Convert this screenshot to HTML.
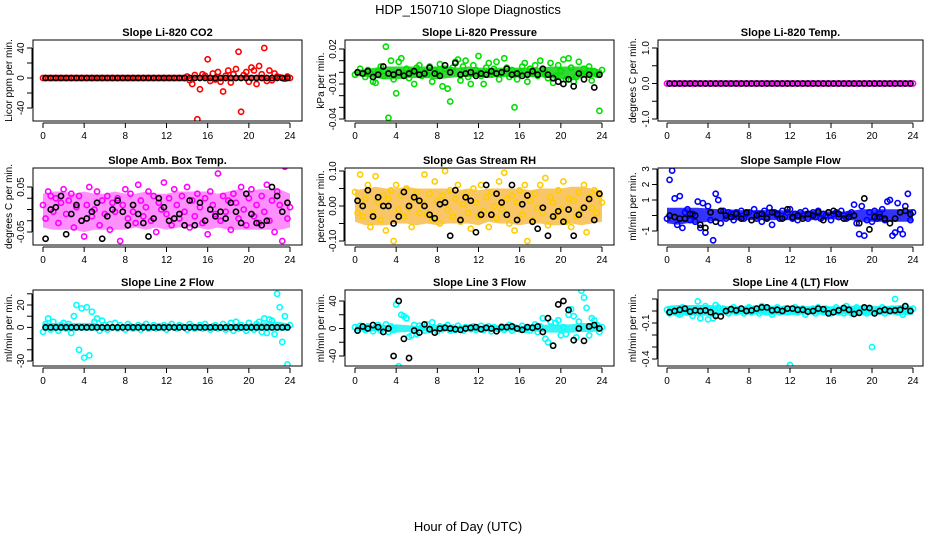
<!DOCTYPE html>
<html><head><meta charset="utf-8"><style>
html,body{margin:0;padding:0;background:#fff;}
svg{display:block;font-family:"Liberation Sans",sans-serif;}
</style></head><body>
<svg id="chart" width="936" height="540" viewBox="0 0 936 540">
<text x="468" y="14" text-anchor="middle" font-size="13">HDP_150710  Slope Diagnostics</text>
<text x="468" y="531" text-anchor="middle" font-size="13">Hour of Day (UTC)</text>
</svg>
<script>
// ---- data (values per panel) ----
const xTicks=[0,4,8,12,16,20,24];
const p1Col=[0,0,0,0,0,0,0,0,0,0,0,0,0,0,0,0,0,0,0,0,0,0,0,0,0,0,0,0,0,0,0,0,0,0,0,0,0,0,0,0,0,0,0,0,0,0,0,0,0,0,0,0,0,0,0,0,2,-3,-8,4,-55,-15,5,3,25,-4,6,-2,8,-5,-18,3,10,-6,5,12,35,-45,4,8,-5,14,10,-8,16,5,40,-4,10,-3,6,2,1,0,-1,2,0];
const p1Blk=[0,0,0,0,0,0,0,0,0,0,0,0,0,0,0,0,0,0,0,0,0,0,0,0,0,0,0,0,0,0,0,0,0,0,0,0,0,0,0,0,0,0,0,0,0,0,0,0];
const p1Lo=[-1,-1,-1,-1,-1,-1,-1,-1,-1,-1,-1,-1,-1,-1,-1,-3,-3,-3,-3,-3,-3,-3,-2,-1,-1];
const p1Hi=[1,1,1,1,1,1,1,1,1,1,1,1,1,1,1,3,3,3,3,4,4,4,3,1,1];

const p2Col=[-2,0,3,-1,-4,2,-1,-8,-9,1,5,-3,22,-39,10,-6,-18,9,12,-2,3,-5,1,-10,4,6,-3,0,-2,5,-8,2,-1,7,-12,3,-14,-25,4,9,11,-7,5,10,-4,-10,6,2,14,-3,-10,4,8,-2,3,9,-6,-1,12,4,-4,2,-30,-6,0,5,8,-8,3,-1,6,-3,10,2,-2,-5,8,-9,-3,6,1,11,-6,12,4,-8,-4,9,-2,3,-1,5,-7,1,-2,-33,2];
const p2Blk=[0,-1,1,-4,-2,5,-1,-2,0,-3,-1,1,-2,-1,4,-1,-3,6,0,8,-2,-1,0,-3,-1,-2,1,-1,0,3,-2,-1,-3,-2,1,-2,3,-2,-5,-8,-10,-6,-12,-1,-6,-2,-13,-2];
const p2Lo=[-3,-4,-5,-6,-6,-5,-5,-5,-6,-5,-4,-4,-4,-5,-4,-4,-4,-4,-4,-5,-6,-6,-5,-4,-3];
const p2Hi=[2,3,4,5,5,5,5,5,5,5,4,5,4,4,4,4,4,4,4,5,5,5,5,4,2];

const p3Col=[0,0,0,0,0,0,0,0,0,0,0,0,0,0,0,0,0,0,0,0,0,0,0,0,0,0,0,0,0,0,0,0,0,0,0,0,0,0,0,0,0,0,0,0,0,0,0,0,0,0,0,0,0,0,0,0,0,0,0,0,0,0,0,0,0,0,0,0,0,0,0,0,0,0,0,0,0,0,0,0,0,0,0,0,0,0,0,0,0,0,0,0,0,0,0,0,0];
const p3Blk=[0,0,0,0,0,0,0,0,0,0,0,0,0,0,0,0,0,0,0,0,0,0,0,0,0,0,0,0,0,0,0,0,0,0,0,0,0,0,0,0,0,0,0,0,0,0,0,0];
const p3Lo=[-0.02,-0.02,-0.02,-0.02,-0.02,-0.02,-0.02,-0.02,-0.02,-0.02,-0.02,-0.02,-0.02,-0.02,-0.02,-0.02,-0.02,-0.02,-0.02,-0.02,-0.02,-0.02,-0.02,-0.02,-0.02];
const p3Hi=[0.02,0.02,0.02,0.02,0.02,0.02,0.02,0.02,0.02,0.02,0.02,0.02,0.02,0.02,0.02,0.02,0.02,0.02,0.02,0.02,0.02,0.02,0.02,0.02,0.02];

const p4Col=[10,-20,40,30,-5,25,-30,15,45,-10,20,35,-40,5,30,-25,-60,10,50,-15,0,40,-35,20,-10,30,-45,15,-5,25,-70,10,45,-20,35,-5,-30,55,20,-15,5,40,-25,30,-50,15,0,60,-10,25,-35,45,10,-20,30,-5,50,-40,20,-15,35,5,-30,25,-55,40,10,-10,80,-25,30,-5,20,-45,35,15,-20,50,0,-35,25,45,-15,10,-30,30,-5,55,-25,20,-50,40,10,-70,95,-20,5];
const p4Blk=[-65,0,5,30,-55,-10,10,-25,-20,-5,15,-65,-15,0,20,-5,-35,10,-10,-30,-60,-20,25,5,-25,-20,-10,-35,20,-35,15,-25,0,-15,-5,-20,15,-5,-30,35,-10,-30,-35,-25,50,30,-5,15];
const p4Lo=[-40,-45,-45,-45,-50,-45,-45,-45,-45,-40,-45,-40,-45,-40,-40,-40,-45,-40,-45,-45,-45,-45,-45,-45,-40];
const p4Hi=[35,40,40,35,40,35,35,40,35,35,40,35,35,40,40,40,40,35,40,45,40,45,45,45,35];

const p5Col=[40,-20,90,-30,20,60,-60,-20,85,10,-40,30,-70,20,45,-100,60,-10,30,-30,50,-5,-60,20,40,-20,10,90,-25,35,-40,70,15,-50,30,100,-10,45,-30,20,60,-45,5,35,-20,-65,50,10,-30,60,-15,25,-60,40,0,-35,70,-10,95,20,-50,30,-70,10,45,-25,60,-100,15,-40,35,-5,60,-20,80,-55,25,10,-30,45,-10,70,-45,20,-60,15,-30,40,-10,60,-75,25,-5,45,-20,30,10];
const p5Blk=[15,0,45,-30,25,0,0,-50,-30,40,0,25,15,0,-25,-35,5,10,-85,45,-40,25,15,-75,-25,60,-25,35,10,-25,60,-40,5,30,-45,-65,-5,-85,-30,-15,-45,-10,-85,-25,-5,20,-40,35];
const p5Lo=[-45,-55,-55,-55,-50,-50,-55,-50,-55,-50,-50,-50,-55,-45,-50,-50,-55,-50,-50,-55,-55,-50,-55,-50,-45];
const p5Hi=[45,50,55,50,50,55,50,50,50,50,45,50,45,50,50,50,50,45,50,50,50,55,55,50,45];

const p6Col=[-0.2,2.3,2.9,1.1,-0.6,1.25,-0.8,0.2,0.4,-0.3,0.1,-0.4,0.9,-0.8,0.8,-1.1,0.6,-0.3,-1.6,1.4,1.0,-0.5,0.3,-0.2,0.2,0.1,-0.3,0.2,-0.1,0.3,-0.2,0.1,0.2,-0.3,0.4,-0.2,0.1,-0.4,0.3,-0.1,0.5,-0.6,0.2,0,-0.2,0.3,-0.1,0.2,0.4,-0.2,0.1,-0.3,0.2,0,0.3,-0.2,0.1,0.2,-0.1,0.3,-0.2,0.1,0,0.2,-0.3,0.1,0.2,-0.1,0.3,0,-0.2,0.1,0.2,0.7,-0.5,-1.2,0.6,-1.3,-0.3,0.2,-0.4,0.3,-0.2,0.1,0.4,-0.3,0.9,1.0,-1.3,-1.1,0.8,-0.9,-1.2,0.6,1.4,-0.3,0.2];
const p6Blk=[0,-0.1,-0.2,-0.2,0.1,0,-0.6,-0.8,0.2,-0.4,0.3,0,-0.1,0.1,-0.2,0.2,-0.3,0,0.1,-0.2,0.2,0.1,-0.2,0.4,-0.1,0,-0.2,0.1,0,0.2,-0.3,0.2,0.3,0.1,-0.2,-0.1,0,-0.5,1.1,-0.9,-0.1,-0.1,-0.2,-0.5,-0.2,0.2,0.3,0.1];
const p6Lo=[-0.5,-0.6,-0.5,-0.5,-0.4,-0.35,-0.3,-0.3,-0.3,-0.3,-0.3,-0.3,-0.3,-0.3,-0.3,-0.3,-0.25,-0.25,-0.3,-0.4,-0.4,-0.4,-0.4,-0.4,-0.4];
const p6Hi=[0.5,0.5,0.5,0.5,0.45,0.4,0.4,0.35,0.35,0.35,0.35,0.35,0.3,0.3,0.3,0.3,0.25,0.25,0.3,0.4,0.4,0.4,0.4,0.4,0.4];

const p7Col=[-4,3,8,-2,5,0,-3,2,4,-1,3,-5,10,20,-20,17,-27,18,-25,14,5,8,-3,6,2,-2,3,0,4,-1,2,0,-2,3,1,-1,0,2,-2,1,3,-1,0,2,-1,1,0,2,-2,1,3,0,-1,2,1,0,-2,3,1,-1,0,2,-1,3,0,-2,1,2,-1,0,3,-2,1,4,-3,5,-1,2,0,-3,4,1,-2,3,5,-4,8,-5,7,6,-6,30,18,-13,10,-33,2];
const p7Blk=[0,0,0,0,0,0,0,0,0,0,0,0,0,0,0,0,0,0,0,0,0,0,0,0,0,0,0,0,0,0,0,0,0,0,0,0,0,0,0,0,0,0,0,0,0,0,0,0];
const p7Lo=[-3,-3,-3,-3,-3,-3,-2,-2,-2,-2,-2,-2,-2,-2,-2,-2,-2,-2,-2,-3,-3,-3,-3,-3,-3];
const p7Hi=[4,4,4,4,4,4,2,2,2,2,2,2,2,2,2,2,2,2,2,3,3,4,5,5,3];

const p8Col=[2,-3,4,1,-2,3,0,-4,2,5,-3,1,6,-5,3,-2,35,-55,20,18,15,-12,-10,5,-8,4,2,-3,6,-2,9,1,-4,3,-1,2,5,-3,1,-2,4,0,-3,2,1,-1,3,-2,0,4,-2,1,3,-4,2,0,-1,3,-2,1,5,-3,2,0,-1,4,-2,1,-3,2,6,-5,3,15,-15,-20,10,-25,8,12,-10,2,-8,20,28,18,-13,10,55,45,30,-10,15,12,5,-5,2];
const p8Blk=[-3,3,0,5,2,-5,0,-40,40,-15,-43,-3,-6,6,-1,-6,0,1,0,-1,-2,0,1,2,-1,1,0,-4,2,2,3,0,-2,2,1,3,-5,15,-25,35,40,27,-17,0,-18,3,5,0];
const p8Lo=[-4,-4,-4,-5,-6,-5,-4,-4,-4,-4,-4,-4,-4,-4,-4,-4,-4,-4,-5,-6,-6,-6,-5,-5,-4];
const p8Hi=[4,4,4,5,6,5,4,4,4,4,4,4,4,4,4,4,4,4,5,6,6,6,8,8,4];

const p9Col=[0.01,-0.02,0.02,0,-0.02,-0.03,0.03,0.01,-0.01,0.02,-0.04,0,0.08,-0.06,0.01,0.04,-0.07,0.02,-0.06,0.05,0.03,-0.01,0.02,0,-0.02,0.01,0.03,-0.01,0,0.02,-0.02,0.01,0.03,-0.01,0.02,0,-0.02,0.04,0.01,-0.01,0.02,-0.03,0,0.03,-0.01,0.01,0.02,-0.01,-0.45,0,0.03,-0.01,0.01,0.02,-0.03,0,0.01,0.02,-0.02,0.03,0,-0.01,0.02,0.01,-0.02,0,0.03,-0.01,0.01,-0.02,0.04,0,-0.02,0.01,0.03,-0.01,0.02,0,-0.02,0.01,-0.3,-0.02,0,0.01,0.03,-0.02,0,0.01,0.02,0.1,-0.01,0.02,-0.03,0.04,0,0.01,0.02];
const p9Blk=[-0.01,0,0.01,0.02,-0.005,0.005,0,0.005,-0.01,-0.04,-0.045,0,0.015,0.005,0.02,0,0.005,0.02,0.03,0.03,0.005,0.01,0,0.02,0.02,0.01,0.01,-0.005,0,0.02,0.015,-0.02,-0.01,0.005,0.025,0.01,-0.025,-0.015,0.03,0.025,-0.02,0,0.01,0,0.005,0.01,0.04,0];
const p9Lo=[-0.03,-0.04,-0.04,-0.04,-0.04,-0.035,-0.03,-0.03,-0.03,-0.03,-0.035,-0.03,-0.035,-0.03,-0.03,-0.03,-0.035,-0.03,-0.03,-0.035,-0.035,-0.03,-0.03,-0.035,-0.03];
const p9Hi=[0.04,0.05,0.05,0.05,0.05,0.045,0.04,0.04,0.045,0.04,0.045,0.04,0.045,0.04,0.04,0.04,0.04,0.04,0.045,0.045,0.045,0.04,0.045,0.05,0.04];

// ---- layout ----
const cols=[{l:33,r:302,x0:43,x24:290,lab:8},{l:345,r:614,x0:355,x24:602,lab:320},{l:658,r:923,x0:667,x24:913,lab:632}];
const rows=[{t:40,b:121},{t:168,b:245},{t:290,b:366}];
const panels=[
 {name:'co2',title:'Slope Li-820 CO2',ylab:'Licor ppm per min.',col:p1Col,blk:p1Blk,lo:p1Lo,hi:p1Hi,s:1,c:'#ff0000',band:'#ff0000',op:0.7,v1:40,y1:48,v2:-40,y2:108,ticks:[40,20,0,-20,-40],tl:['40','','0','','-40']},
 {name:'pressure',title:'Slope Li-820 Pressure',ylab:'kPa per min.',col:p2Col,blk:p2Blk,lo:p2Lo,hi:p2Hi,s:0.001,c:'#00e000',band:'#00d000',op:0.8,v1:0.02,y1:49,v2:-0.04,y2:119,ticks:[0.02,0.01,0,-0.01,-0.02,-0.03,-0.04],tl:['0.02','','','-0.01','','','-0.04']},
 {name:'li820-temp',title:'Slope Li-820 Temp.',ylab:'degrees C per min.',col:p3Col,blk:p3Blk,lo:p3Lo,hi:p3Hi,s:1,c:'#ff00ff',band:'#ff00ff',op:0.8,v1:1,y1:48,v2:-1,y2:119,ticks:[1,0.5,0,-0.5,-1],tl:['1.0','','0.0','','-1.0']},
 {name:'amb-box-temp',title:'Slope Amb. Box Temp.',ylab:'degrees C per min.',col:p4Col,blk:p4Blk,lo:p4Lo,hi:p4Hi,s:0.001,c:'#ff00ff',band:'#ff33ff',op:0.55,v1:0.05,y1:187,v2:-0.05,y2:232,ticks:[0.05,0.025,0,-0.025,-0.05],tl:['0.05','','','','-0.05']},
 {name:'gas-stream-rh',title:'Slope Gas Stream RH',ylab:'percent per min.',col:p5Col,blk:p5Blk,lo:p5Lo,hi:p5Hi,s:0.001,c:'#ffcc00',band:'#f4a000',op:0.6,v1:0.1,y1:171,v2:-0.1,y2:241,ticks:[0.1,0.05,0,-0.05,-0.1],tl:['0.10','','0.00','','-0.10']},
 {name:'sample-flow',title:'Slope Sample Flow',ylab:'ml/min per min.',col:p6Col,blk:p6Blk,lo:p6Lo,hi:p6Hi,s:1,c:'#0000ff',band:'#0000ff',op:0.8,v1:3,y1:169,v2:-1,y2:231,ticks:[3,2,1,0,-1],tl:['3','2','1','','-1']},
 {name:'line2-flow',title:'Slope Line 2 Flow',ylab:'ml/min per min.',col:p7Col,blk:p7Blk,lo:p7Lo,hi:p7Hi,s:1,c:'#00ffff',band:'#00f0f0',op:0.8,v1:20,y1:305,v2:-30,y2:361,ticks:[30,20,10,0,-10,-20,-30],tl:['','20','','0','','','-30']},
 {name:'line3-flow',title:'Slope Line 3 Flow',ylab:'ml/min per min.',col:p8Col,blk:p8Blk,lo:p8Lo,hi:p8Hi,s:1,c:'#00ffff',band:'#00f0f0',op:0.8,v1:40,y1:301,v2:-40,y2:356,ticks:[40,20,0,-20,-40],tl:['40','','0','','-40']},
 {name:'line4-flow',title:'Slope Line 4 (LT) Flow',ylab:'ml/min per min.',col:p9Col,blk:p9Blk,lo:p9Lo,hi:p9Hi,s:1,c:'#00ffff',band:'#00f0f0',op:0.8,v1:0.1,y1:299,v2:-0.4,y2:359,ticks:[0.1,0,-0.1,-0.2,-0.3,-0.4],tl:['','','-0.1','','','-0.4']}
];
const NS='http://www.w3.org/2000/svg';
const svg=document.getElementById('chart');
function mk(tag,attrs,parent){const e=document.createElementNS(NS,tag);for(const k in attrs)e.setAttribute(k,attrs[k]);(parent||svg).appendChild(e);return e;}
panels.forEach((p,i)=>{
 const C=cols[i%3],R=rows[Math.floor(i/3)];
 const g=mk('g',{});
 
 
 const xs=h=>C.x0+(C.x24-C.x0)*h/24;
 const ys=v=>p.y1+(p.y2-p.y1)*(v-p.v1)/(p.v2-p.v1);
 const clip='clip'+i;
 const cp=mk('clipPath',{id:clip},g);mk('rect',{x:C.l,y:R.t,width:C.r-C.l,height:R.b-R.t},cp);
 const pg=mk('g',{'clip-path':'url(#'+clip+')'},g);
 let pts=[];
 p.hi.forEach((v,k)=>pts.push(xs(k*24/(p.hi.length-1))+','+ys(v*p.s)));
 for(let k=p.lo.length-1;k>=0;k--)pts.push(xs(k*24/(p.lo.length-1))+','+ys(p.lo[k]*p.s));
 const band=mk('polygon',{points:pts.join(' '),fill:p.band,'fill-opacity':p.op,stroke:'none'},pg);
 
 
 p.col.forEach((v,k)=>{
  const c=mk('circle',{cx:xs(k*24/(p.col.length-1)),cy:ys(v*p.s),r:2.6,fill:'none',stroke:p.c,'stroke-width':1.6},pg);
  
  
 });
 p.blk.forEach((v,k)=>{
  const c=mk('circle',{cx:xs(0.25+k*0.5),cy:ys(v*p.s),r:2.6,fill:'none',stroke:'#000','stroke-width':1.6},pg);
  
  
 });
 const box=mk('rect',{x:C.l,y:R.t,width:C.r-C.l,height:R.b-R.t,fill:'none',stroke:'#000','stroke-width':1},g);
 
 
 const t=mk('text',{x:(C.l+C.r)/2,y:R.t-4,'text-anchor':'middle','font-size':11,'font-weight':'bold'},g);
 t.textContent=p.title;
 
 
 const ay=R.b+2;
 mk('line',{x1:xs(0),x2:xs(24),y1:ay,y2:ay,stroke:'#000'},g);
 xTicks.forEach(h=>{
  mk('line',{x1:xs(h),x2:xs(h),y1:ay,y2:ay+5,stroke:'#000'},g);
  const tx=mk('text',{x:xs(h),y:ay+16,'text-anchor':'middle','font-size':10},g);
  tx.textContent=h;
  
  
 });
 const ax=C.l-1;
 const tv=p.ticks;
 mk('line',{x1:ax,x2:ax,y1:ys(tv[0]),y2:ys(tv[tv.length-1]),stroke:'#000'},g);
 tv.forEach((v,k)=>{
  mk('line',{x1:ax-5,x2:ax,y1:ys(v),y2:ys(v),stroke:'#000'},g);
  if(p.tl[k]){
   const ty=ys(v);
   const tt=mk('text',{x:ax-8,y:ty,'text-anchor':'middle','font-size':10,transform:'rotate(-90 '+(ax-8)+' '+ty+')'},g);
   tt.textContent=p.tl[k];
   
   
  }
 });
 const ym=(R.t+R.b)/2;
 const yl=mk('text',{x:C.lab+4,y:ym,'text-anchor':'middle','font-size':10,transform:'rotate(-90 '+(C.lab+4)+' '+ym+')'},g);
 yl.textContent=p.ylab;
 
 
});
</script>
</body></html>
